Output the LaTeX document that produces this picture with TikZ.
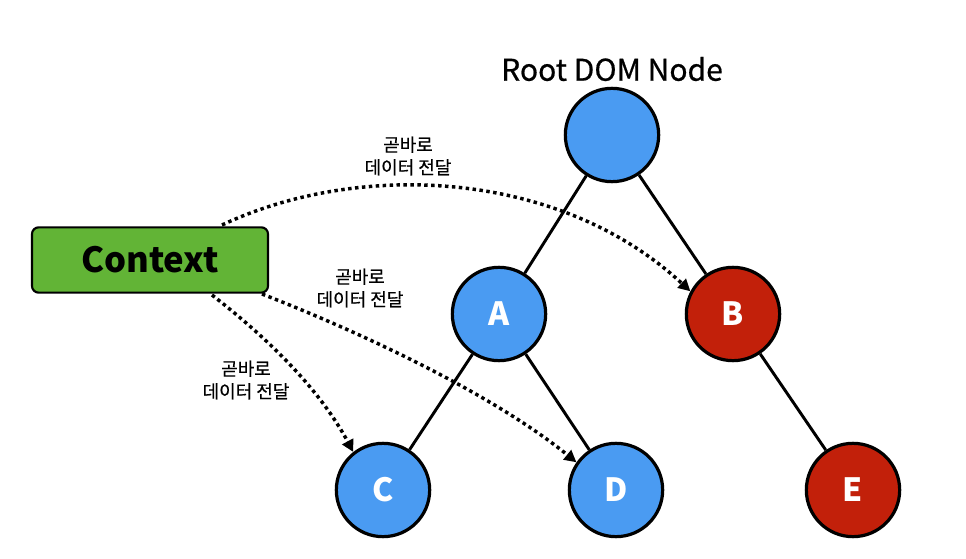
\documentclass[tikz,border=0pt]{standalone}
\usepackage{fontspec}
\setmainfont{Noto Sans CJK KR}
\newfontfamily\medkr[FakeBold=0.6]{Noto Sans CJK KR}
\usetikzlibrary{arrows.meta}
\definecolor{domblue}{HTML}{4A9BF2}
\definecolor{domred}{HTML}{C2200A}
\definecolor{ctxgreen}{HTML}{62B436}
\tikzset{
  treenode/.style={circle, draw=black, line width=2.4pt, minimum size=70pt, inner sep=0pt,
                   text=white, font=\fontsize{24}{24}\selectfont\bfseries},
  bluenode/.style={treenode, fill=domblue},
  rednode/.style={treenode, fill=domred},
  edge/.style={line width=2.2pt, black},
  pass/.style={line width=2.6pt, dash pattern=on 2.6pt off 2.6pt,
               -{Triangle[length=9pt,width=9pt]}},
  note/.style={align=center, font=\medkr\fontsize{13.5}{17}\selectfont, text=black}
}
\begin{document}
\begin{tikzpicture}[x=0.75pt, y=-0.75pt]
  \useasboundingbox (0,0) rectangle (966,559);

  % title
  \node[font=\medkr\fontsize{22.5}{23}\selectfont] (title) at (612,69) {Root DOM Node};

  % tree nodes
  \node[bluenode] (root) at (612,135) {};
  \node[bluenode] (a) at (499,314) {A};
  \node[rednode]  (b) at (733,314) {B};
  \node[bluenode] (c) at (383,490) {C};
  \node[bluenode] (d) at (616,490) {D};
  \node[rednode]  (e) at (853,490) {E};

  % tree edges
  \draw[edge] (root) -- (a);
  \draw[edge] (root) -- (b);
  \draw[edge] (a) -- (c);
  \draw[edge] (a) -- (d);
  \draw[edge] (b) -- (e);

  % context provider
  \node[draw=black, line width=1.6pt, fill=ctxgreen, rounded corners=5pt,
        minimum width=177pt, minimum height=49pt,
        font=\fontsize{26}{26}\selectfont\bfseries] (ctx) at (150,260) {Context};

  % direct data delivery
  \coordinate (s1) at (222,225);
  \coordinate (s2) at (262,294);
  \coordinate (s3) at (212,295);
  \draw[pass] (s1) .. controls (360,160) and (560,170) .. (b.152);
  \draw[pass] (s2) .. controls (380,340) and (500,400) .. (d.145);
  \draw[pass] (s3) .. controls (270,340) and (320,390) .. (c.128);

  % labels
  \node[note] (l1) at (408,156) {곧바로\\데이터 전달};
  \node[note] (l2) at (360,288) {곧바로\\데이터 전달};
  \node[note] (l3) at (246,380) {곧바로\\데이터 전달};
\end{tikzpicture}
\end{document}
